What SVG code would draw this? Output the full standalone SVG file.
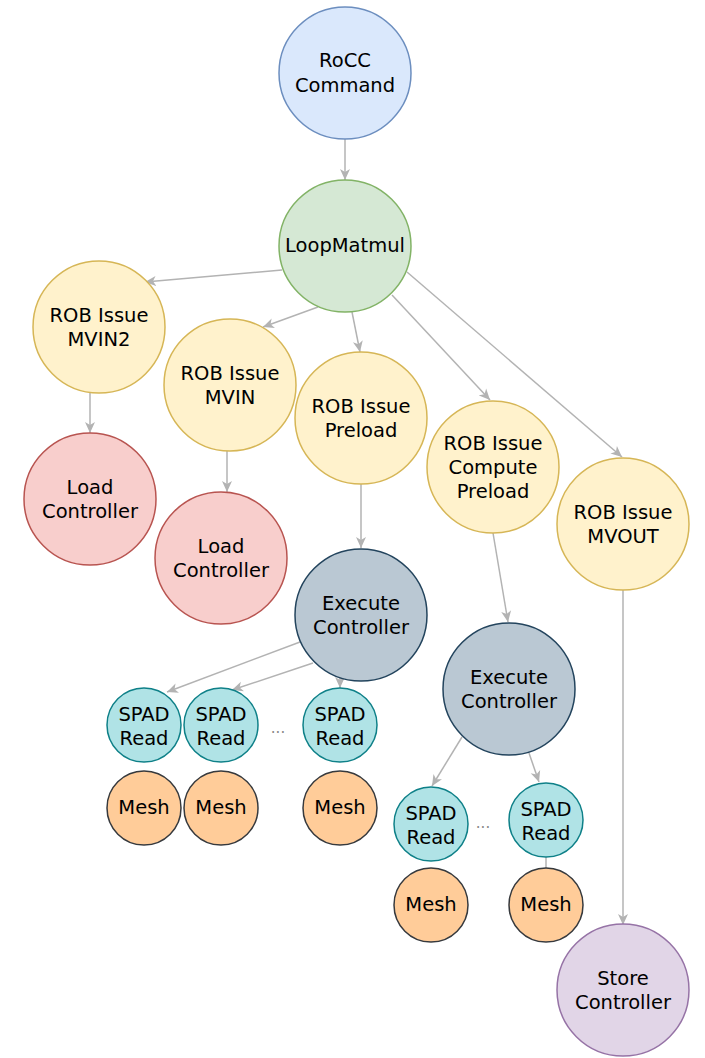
<svg xmlns="http://www.w3.org/2000/svg" width="705" height="1058" viewBox="0 0 705 1058">
<style>
text{font-family:"DejaVu Sans",Verdana,sans-serif;font-size:19.5px;fill:#000;text-anchor:middle}
circle{stroke-width:1.5}
.blue{fill:#dae8fc;stroke:#6c8ebf}
.green{fill:#d5e8d4;stroke:#82b366}
.yellow{fill:#fff2cc;stroke:#d6b656}
.red{fill:#f8cecc;stroke:#b85450}
.slate{fill:#bac8d3;stroke:#23445d}
.teal{fill:#b0e3e6;stroke:#0e8088}
.orange{fill:#ffcc99;stroke:#36393d}
.purple{fill:#e1d5e7;stroke:#9673a6}
.edge{stroke:#b3b3b3;stroke-width:1.5;fill:none}
.arr{marker-end:url(#ah)}
.dots{fill:#888;font-size:15px}
</style>
<defs>
<marker id="ah" markerUnits="userSpaceOnUse" markerWidth="12" markerHeight="12" viewBox="0 0 12 12" refX="11" refY="6" orient="auto">
<path d="M0,1 L11,6 L0,11 L3,6 z" fill="#b3b3b3"/>
</marker>
</defs>
<g id="connectors">
<line class="edge arr" x1="345" y1="139" x2="345" y2="180"/>
<line class="edge arr" x1="282" y1="270" x2="145" y2="282"/>
<line class="edge arr" x1="318" y1="307" x2="263" y2="327"/>
<line class="edge arr" x1="352" y1="312" x2="360" y2="352"/>
<line class="edge arr" x1="392" y1="295" x2="490" y2="400"/>
<line class="edge arr" x1="407" y1="272" x2="622" y2="457"/>
<line class="edge arr" x1="90" y1="393" x2="90" y2="433"/>
<line class="edge arr" x1="227" y1="451" x2="227" y2="492"/>
<line class="edge arr" x1="361" y1="484" x2="361" y2="548"/>
<line class="edge arr" x1="493" y1="533" x2="508" y2="622"/>
<line class="edge arr" x1="623" y1="590" x2="623" y2="925"/>
<line class="edge arr" x1="300" y1="642" x2="167" y2="692"/>
<line class="edge arr" x1="313" y1="663" x2="232" y2="690"/>
<line class="edge arr" x1="340" y1="676" x2="340" y2="688"/>
<line class="edge arr" x1="462" y1="737" x2="432" y2="786"/>
<line class="edge arr" x1="529" y1="753" x2="539" y2="782"/>
<line class="edge" x1="546" y1="857" x2="546" y2="868"/>
</g>
<g id="rocc"><circle class="blue" cx="345" cy="73" r="66"/><text x="345" y="67">RoCC</text><text x="345" y="92">Command</text></g>
<g id="loopmatmul"><circle class="green" cx="345" cy="246" r="66"/><text x="345" y="252">LoopMatmul</text></g>
<g id="rob-mvin2"><circle class="yellow" cx="99" cy="327" r="66"/><text x="99" y="322">ROB Issue</text><text x="99" y="346">MVIN2</text></g>
<g id="rob-mvin"><circle class="yellow" cx="230" cy="385" r="66"/><text x="230" y="380">ROB Issue</text><text x="230" y="404">MVIN</text></g>
<g id="rob-preload"><circle class="yellow" cx="361" cy="418" r="66"/><text x="361" y="413">ROB Issue</text><text x="361" y="437">Preload</text></g>
<g id="rob-compute"><circle class="yellow" cx="493" cy="467" r="66"/><text x="493" y="450">ROB Issue</text><text x="493" y="474">Compute</text><text x="493" y="498">Preload</text></g>
<g id="rob-mvout"><circle class="yellow" cx="623" cy="524" r="66"/><text x="623" y="519">ROB Issue</text><text x="623" y="543">MVOUT</text></g>
<g id="load1"><circle class="red" cx="90" cy="499" r="66"/><text x="90" y="494">Load</text><text x="90" y="518">Controller</text></g>
<g id="load2"><circle class="red" cx="221" cy="558" r="66"/><text x="221" y="553">Load</text><text x="221" y="577">Controller</text></g>
<g id="exec1"><circle class="slate" cx="361" cy="615" r="66"/><text x="361" y="610">Execute</text><text x="361" y="634">Controller</text></g>
<g id="exec2"><circle class="slate" cx="509" cy="689" r="66"/><text x="509" y="684">Execute</text><text x="509" y="708">Controller</text></g>
<g id="store"><circle class="purple" cx="623" cy="990" r="66"/><text x="623" y="985">Store</text><text x="623" y="1009">Controller</text></g>
<g id="spad1"><circle class="teal" cx="144" cy="725" r="37"/><text x="144" y="721">SPAD</text><text x="144" y="745">Read</text></g>
<g id="spad2"><circle class="teal" cx="221" cy="725" r="37"/><text x="221" y="721">SPAD</text><text x="221" y="745">Read</text></g>
<g id="spad3"><circle class="teal" cx="340" cy="725" r="37"/><text x="340" y="721">SPAD</text><text x="340" y="745">Read</text></g>
<g id="spad4"><circle class="teal" cx="431" cy="824" r="37"/><text x="431" y="820">SPAD</text><text x="431" y="844">Read</text></g>
<g id="spad5"><circle class="teal" cx="546" cy="820" r="37"/><text x="546" y="816">SPAD</text><text x="546" y="840">Read</text></g>
<g id="mesh1"><circle class="orange" cx="144" cy="808" r="37"/><text x="144" y="814">Mesh</text></g>
<g id="mesh2"><circle class="orange" cx="221" cy="808" r="37"/><text x="221" y="814">Mesh</text></g>
<g id="mesh3"><circle class="orange" cx="340" cy="808" r="37"/><text x="340" y="814">Mesh</text></g>
<g id="mesh4"><circle class="orange" cx="431" cy="905" r="37"/><text x="431" y="911">Mesh</text></g>
<g id="mesh5"><circle class="orange" cx="546" cy="905" r="37"/><text x="546" y="911">Mesh</text></g>
<g id="ellipses"><text class="dots" x="278" y="733">...</text><text class="dots" x="483" y="828">...</text></g>
</svg>
